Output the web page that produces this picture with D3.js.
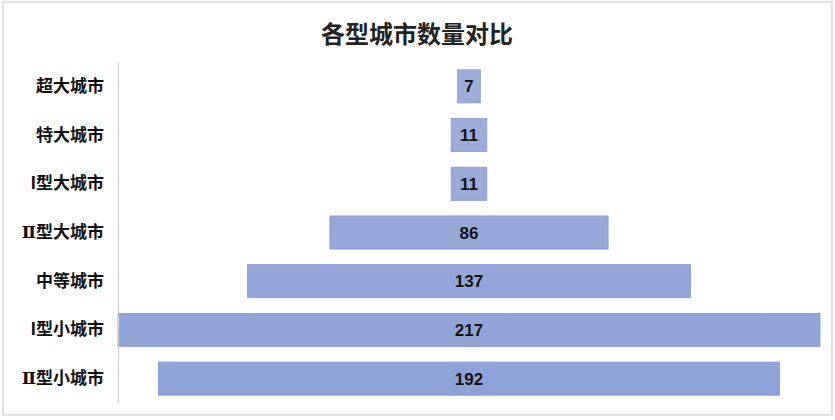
<!DOCTYPE html>
<html>
<head>
<meta charset="utf-8">
<script src="https://cdn.jsdelivr.net/npm/d3@7"></script>
<style>
  body { margin: 0; background: #fff; }
  text { font-family: "Noto Sans CJK SC", "Microsoft YaHei", sans-serif; }
</style>
</head>
<body>
<div id="chart"></div>
<script>
// data
var categories = ["超大城市", "特大城市", "I型大城市", "Ⅱ型大城市", "中等城市", "I型小城市", "Ⅱ型小城市"];
var values = [7, 11, 11, 86, 137, 217, 192];
var title = "各型城市数量对比";

var W = 835, H = 420;
var margin = { top: 62, right: 15, bottom: 17, left: 118 },
    width = 820 - margin.left,
    height = H - margin.top - margin.bottom;

var svg = d3.select("#chart")
    .append("svg")
    .attr("width", W)
    .attr("height", H);

// gradient for the bars, lighter at top
var grad = svg.append("defs").append("linearGradient")
    .attr("id", "barGrad")
    .attr("gradientUnits", "userSpaceOnUse")
    .attr("x1", 0).attr("y1", margin.top)
    .attr("x2", 0).attr("y2", margin.top + height);
grad.append("stop").attr("offset", "0%").attr("stop-color", "#9eacd9");
grad.append("stop").attr("offset", "100%").attr("stop-color", "#879fd7");

// outer frame
svg.append("rect")
    .attr("x", 3).attr("y", 2)
    .attr("width", 829).attr("height", 413)
    .attr("fill", "none")
    .attr("stroke", "#d9d9d9")
    .attr("stroke-width", 1.5);

svg.append("text")
    .attr("x", 417)
    .attr("y", 43)
    .attr("text-anchor", "middle")
    .attr("font-size", 24)
    .attr("font-weight", "bold")
    .attr("fill", "#222")
    .text(title);

var g = svg.append("g")
    .attr("transform", "translate(" + margin.left + "," + margin.top + ")");

var x = d3.scaleLinear()
    .domain([0, d3.max(values)])
    .range([0, width]);

var y = d3.scaleBand()
    .domain(categories)
    .range([0, height])
    .paddingInner(0.32)
    .paddingOuter(0.16);

var cx = width / 2;

// bars, centred (funnel)
g.selectAll("rect.bar")
    .data(values)
    .enter()
    .append("rect")
    .attr("class", "bar")
    .attr("x", function (d) { return cx - x(d) / 2; })
    .attr("y", function (d, i) { return y(categories[i]); })
    .attr("width", function (d) { return x(d); })
    .attr("height", y.bandwidth())
    .attr("fill", "url(#barGrad)")
    .attr("stroke", "#8797cf")
    .attr("stroke-width", 0.8);

// value labels
g.selectAll("text.val")
    .data(values)
    .enter()
    .append("text")
    .attr("class", "val")
    .attr("x", cx)
    .attr("y", function (d, i) { return y(categories[i]) + y.bandwidth() / 2; })
    .attr("dy", "0.36em")
    .attr("text-anchor", "middle")
    .attr("font-size", 17)
    .attr("font-weight", "bold")
    .attr("fill", "#111")
    .style("font-family", "'Liberation Sans', Arial, sans-serif")
    .text(function (d) { return d; });

// left axis
var yAxis = g.append("g")
    .call(d3.axisLeft(y).tickSize(0).tickPadding(14));
yAxis.select(".domain")
    .attr("stroke", "#d0d0d0")
    .attr("stroke-width", 1.2);
yAxis.selectAll("text")
    .attr("font-size", 17)
    .attr("font-weight", "bold")
    .attr("fill", "#111")
    .attr("font-family", "'Noto Sans CJK SC', sans-serif")
    .each(function (d) {
        // give the roman numeral its own font so it stays one glyph
        if (d.charAt(0) === "Ⅱ") {
            var t = d3.select(this).text("");
            t.append("tspan").attr("font-family", "'DejaVu Serif', serif").text("Ⅱ");
            t.append("tspan").text(d.slice(1));
        }
    });
</script>
</body>
</html>
